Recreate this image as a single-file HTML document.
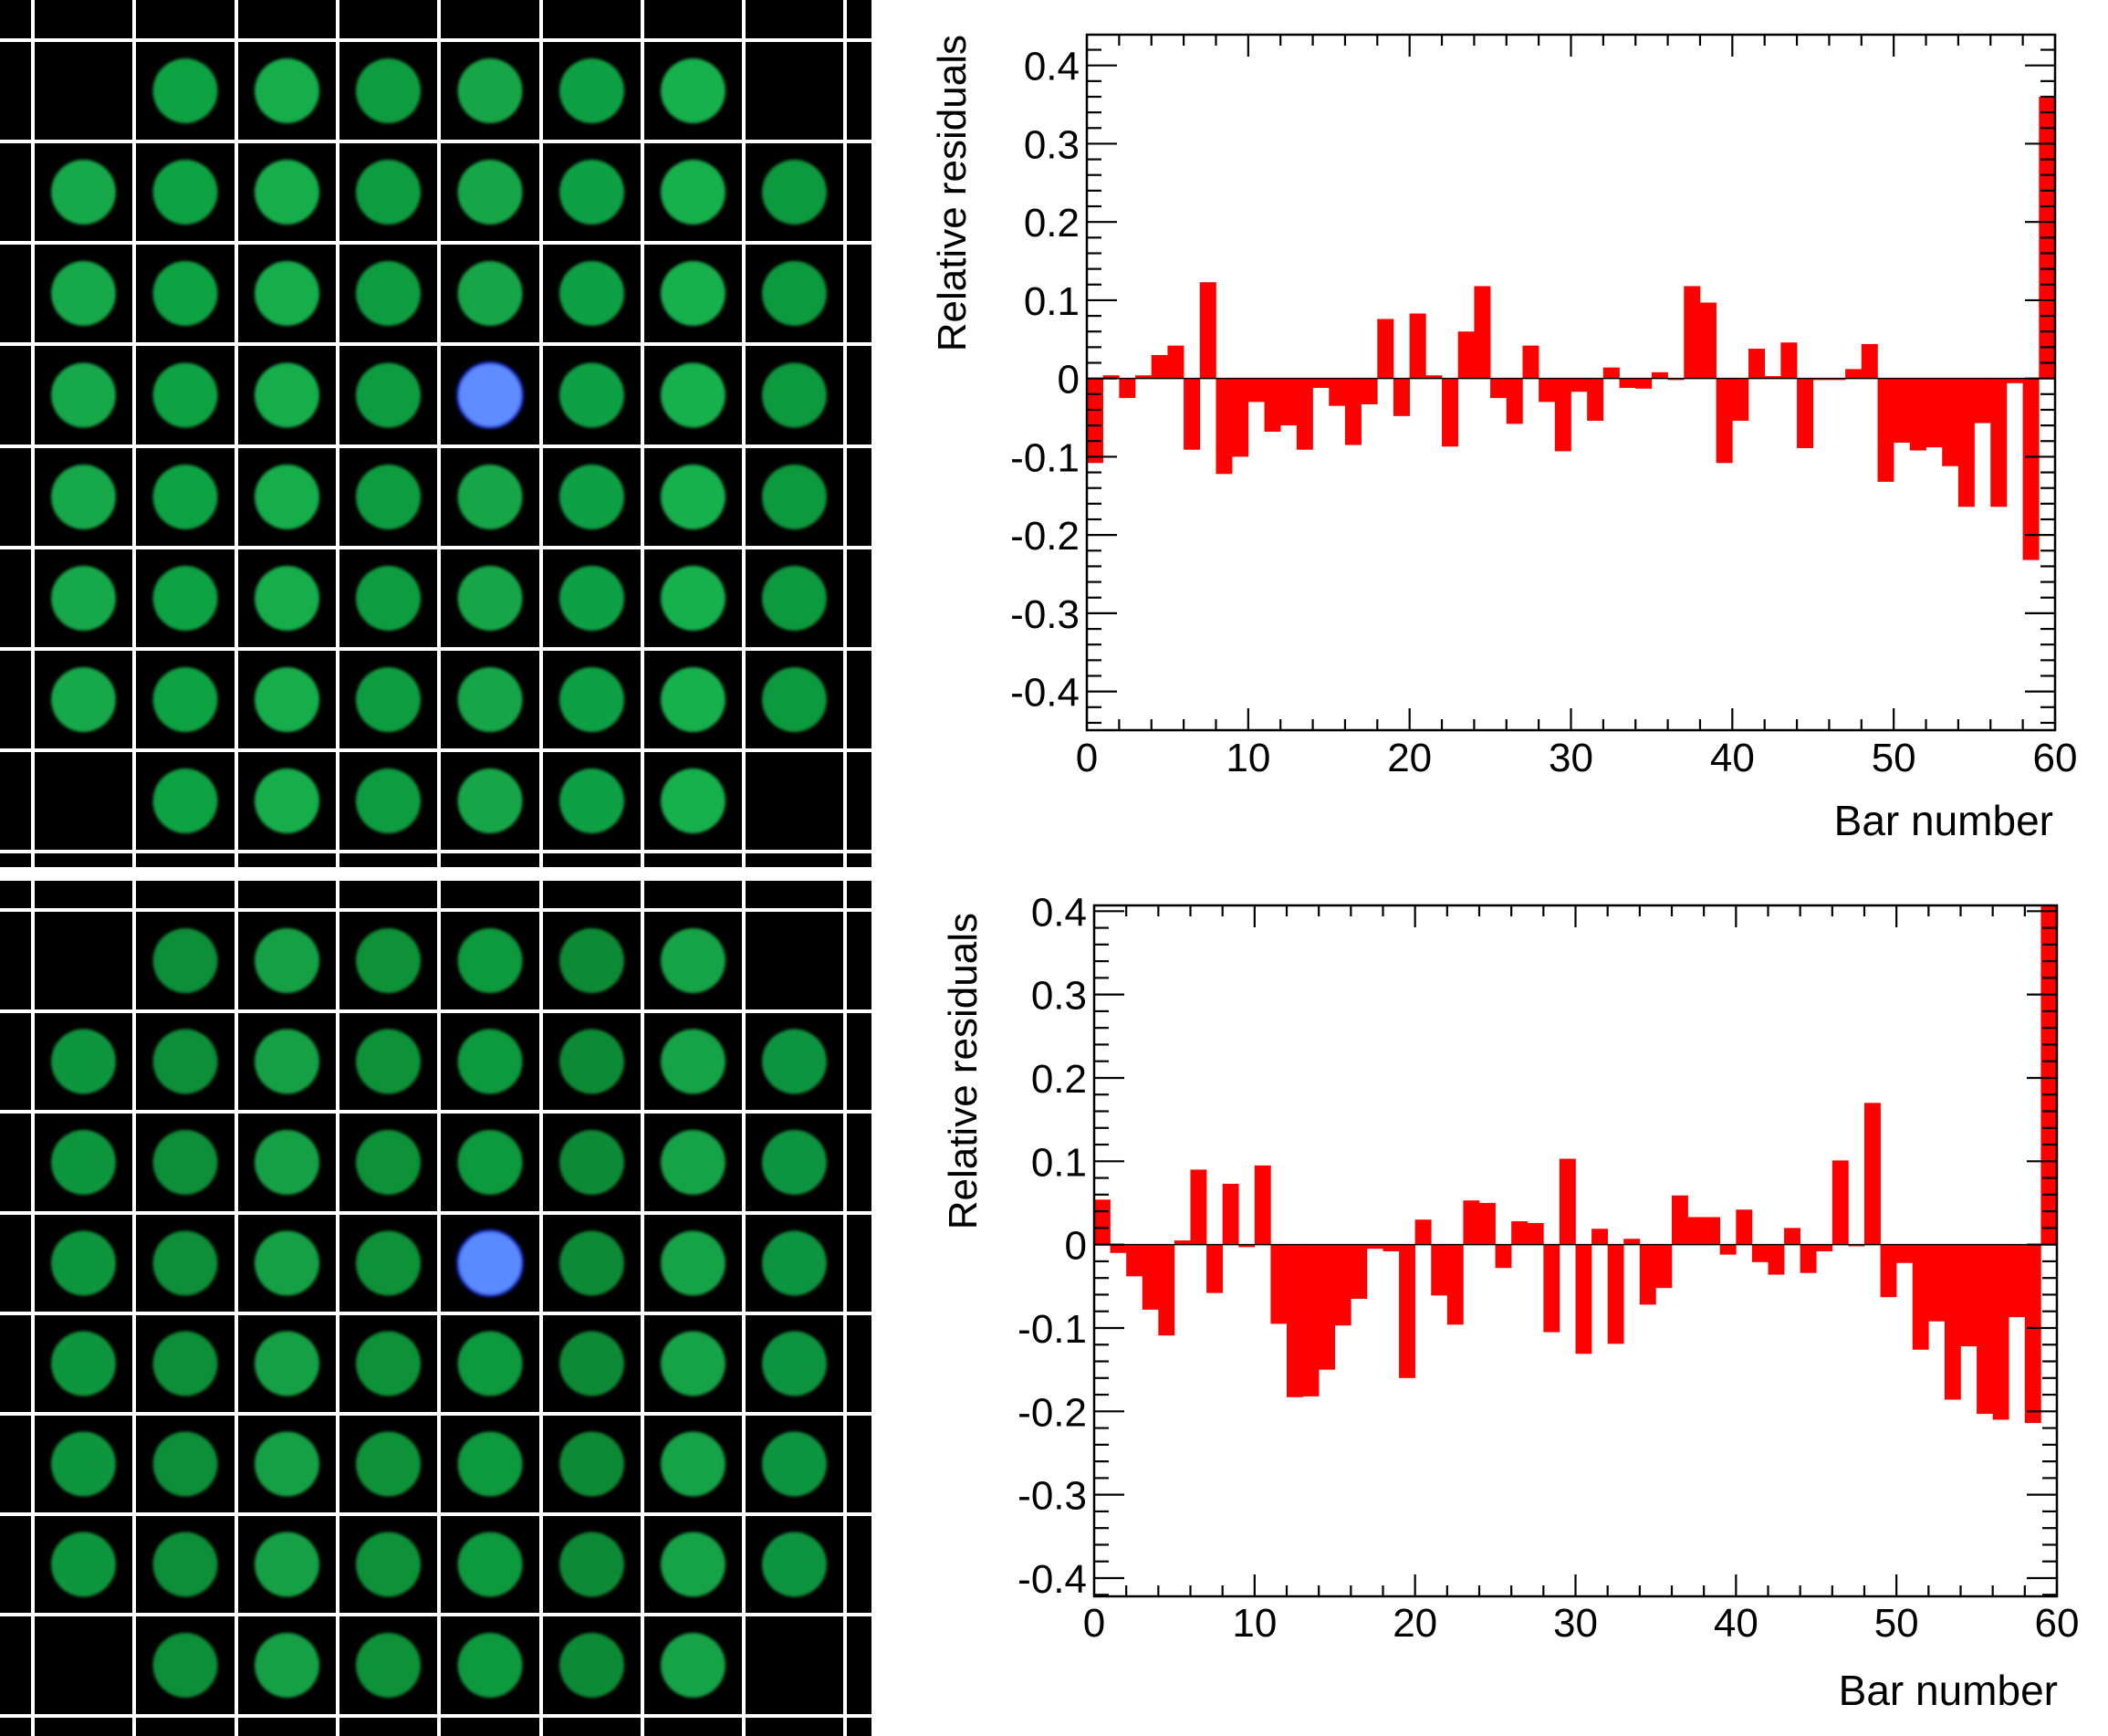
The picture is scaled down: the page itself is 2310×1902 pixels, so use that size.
<!DOCTYPE html>
<html><head><meta charset="utf-8"><style>
html,body{margin:0;padding:0;background:#fff}
svg{display:block}
text{font-family:"Liberation Sans",sans-serif;fill:#000}
</style></head><body>
<svg id="root" width="2310" height="1902" viewBox="0 0 2310 1902" xmlns="http://www.w3.org/2000/svg">
<defs><filter id="soft" x="-20%" y="-20%" width="140%" height="140%"><feGaussianBlur stdDeviation="1.6"/></filter></defs>
<g id="photos"></g>
<g id="charts"></g>
</svg>
<script>
// ---- chart data ----
const binsTop = 60;
const residualsTop = [-0.108,0.004,-0.025,0.004,0.030,0.042,-0.091,0.123,-0.122,-0.100,
 -0.030,-0.068,-0.060,-0.091,-0.012,-0.035,-0.085,-0.033,0.076,-0.048,
 0.083,0.004,-0.087,0.060,0.118,-0.025,-0.058,0.042,-0.030,-0.093,
 -0.017,-0.054,0.014,-0.012,-0.013,0.008,-0.002,0.118,0.097,-0.108,
 -0.054,0.038,0.003,0.046,-0.089,-0.002,-0.002,0.012,0.044,-0.132,
 -0.082,-0.092,-0.088,-0.112,-0.164,-0.057,-0.164,-0.006,-0.232,0.360];
const residualsBottom = [0.054,-0.010,-0.038,-0.078,-0.109,0.005,0.090,-0.058,0.073,-0.003,
 0.095,-0.095,-0.183,-0.182,-0.150,-0.097,-0.065,-0.005,-0.008,-0.160,
 0.030,-0.061,-0.096,0.053,0.050,-0.028,0.028,0.026,-0.105,0.103,
 -0.131,0.019,-0.119,0.007,-0.072,-0.052,0.059,0.033,0.033,-0.012,
 0.042,-0.021,-0.036,0.020,-0.034,-0.008,0.101,-0.002,0.170,-0.063,
 -0.022,-0.126,-0.092,-0.186,-0.122,-0.203,-0.210,-0.087,-0.214,0.450];
const yTickLabels = ["-0.4","-0.3","-0.2","-0.1","0","0.1","0.2","0.3","0.4"];
const xTickLabels = ["0","10","20","30","40","50","60"];
const xAxisTitle = "Bar number";
const yAxisTitle = "Relative residuals";

const NS = "http://www.w3.org/2000/svg";
function mk(tag, attrs, parent){
  const e = document.createElementNS(NS, tag);
  for (const k in attrs) e.setAttribute(k, attrs[k]);
  parent.appendChild(e);
  return e;
}

// ---- photo panels ----
const photos = document.getElementById('photos');
function photoPanel(y0, y1, hLines, greens, blue){
  const bg = mk('rect', {x:0, y:y0, width:955, height:y1-y0, fill:'#000'}, photos);
  
  
  const vLines = [36,147,259,370,481,593,704,815,926];
  for (let r = 0; r < 8; r++){
    for (let c = 0; c < 8; c++){
      if ((r === 0 || r === 7) && (c === 0 || c === 7)) continue;
      const cx = (vLines[c] + vLines[c+1]) / 2;
      const cy = (hLines[r] + hLines[r+1]) / 2;
      const isBlue = (r === 3 && c === 4);
      const shade = greens[(r*8 + c) % greens.length];
      const circ = mk('circle', {cx:cx, cy:cy, r:35.5,
        fill: isBlue ? blue : shade, filter:'url(#soft)',
        stroke: isBlue ? '#1a2fcc' : 'none', 'stroke-width': isBlue ? 3 : 0}, photos);
      
      
    }
  }
  for (const x of vLines){
    const l = mk('rect', {x:x-2, y:y0, width:4, height:y1-y0, fill:'#fff'}, photos);
    
    
  }
  for (const y of hLines){
    const l = mk('rect', {x:0, y:y-2, width:955, height:4, fill:'#fff'}, photos);
    
    
  }
}
photoPanel(0, 950, [44,155,266,377,489,600,711,822,933],
  ['#13a848','#0fa243','#15ad4c','#0e9d40','#12a646','#10a044','#17b04e','#0c993e'], '#5e8cff');
photoPanel(965, 1902, [997,1108,1218,1329,1439,1549,1659,1769,1880],
  ['#0f963c','#0c8e38','#12a044','#0d9239','#10993d','#0b8a35','#14a346','#0e9440'], '#5a8aff');

// ---- charts ----
const charts = document.getElementById('charts');
function chart(cfg, values){
  const g = mk('g', {}, charts);
  
  
  const {L, R, T, B, ymin, ymax} = cfg;
  const xs = v => L + (v / binsTop) * (R - L);
  const ys = v => B - (v - ymin) / (ymax - ymin) * (B - T);
  const clip = mk('clipPath', {id: cfg.name + '-clip'}, g);
  mk('rect', {x:L, y:T, width:R-L, height:B-T}, clip);
  const bars = mk('g', {'clip-path': 'url(#' + cfg.name + '-clip)'}, g);
  values.forEach((v, i) => {
    const y0 = ys(0), y1 = ys(v);
    const b = mk('rect', {x: xs(i), y: Math.min(y0, y1), width: xs(i+1) - xs(i) + 0.3,
      height: Math.max(Math.abs(y1 - y0), 1.2), fill: '#ff0000'}, bars);
    
    
  });
  mk('line', {x1:L, x2:R, y1:ys(0), y2:ys(0), stroke:'#000', 'stroke-width':1.5}, g);
  const fr = mk('rect', {x:L, y:T, width:R-L, height:B-T, fill:'none', stroke:'#000', 'stroke-width':2.5}, g);
  
  
  for (let k = -25; k <= 25; k++){
    const v = k * 0.02;
    if (v < ymin - 1e-9 || v > ymax + 1e-9) continue;
    const major = (k % 5 === 0);
    const len = major ? 33 : 16;
    const y = ys(v);
    mk('line', {x1:L, x2:L+len, y1:y, y2:y, stroke:'#000', 'stroke-width':2.2}, g);
    mk('line', {x1:R, x2:R-len, y1:y, y2:y, stroke:'#000', 'stroke-width':2.2}, g);
  }
  yTickLabels.forEach(lbl => {
    const v = parseFloat(lbl);
    const t = mk('text', {x: L - 8, y: ys(v) + 16, 'text-anchor':'end', 'font-size':44}, g);
    t.textContent = lbl;
    
    
  });
  for (let v = 0; v <= binsTop; v += 2){
    const major = (v % 10 === 0);
    const len = major ? 24 : 12;
    const x = xs(v);
    mk('line', {x1:x, x2:x, y1:B, y2:B-len, stroke:'#000', 'stroke-width':2.2}, g);
    mk('line', {x1:x, x2:x, y1:T, y2:T+len, stroke:'#000', 'stroke-width':2.2}, g);
  }
  xTickLabels.forEach(lbl => {
    const v = parseFloat(lbl);
    const t = mk('text', {x: xs(v), y: cfg.xLabelBase, 'text-anchor':'middle', 'font-size':44}, g);
    t.textContent = lbl;
    
    
  });
  const xt = mk('text', {x: cfg.xTitleRight, y: cfg.xTitleBase, 'text-anchor':'end', 'font-size':46}, g);
  xt.textContent = xAxisTitle;
  
  
  const yt = mk('text', {x: 0, y: 0, 'text-anchor':'end', 'font-size':44,
    transform: 'translate(' + cfg.yTitleX + ',' + cfg.yTitleTop + ') rotate(-90)'}, g);
  yt.textContent = yAxisTitle;
  
  
}
chart({name:'top-residuals-chart', L:1191, R:2252, T:38, B:800, ymin:-0.4494, ymax:0.4393,
  xLabelBase:845, xTitleRight:2250, xTitleBase:915, yTitleX:1058, yTitleTop:38}, residualsTop);
chart({name:'bottom-residuals-chart', L:1199, R:2254, T:992, B:1749, ymin:-0.4219, ymax:0.4069,
  xLabelBase:1793, xTitleRight:2255, xTitleBase:1868, yTitleX:1070, yTitleTop:1000}, residualsBottom);
</script>
</body></html>
